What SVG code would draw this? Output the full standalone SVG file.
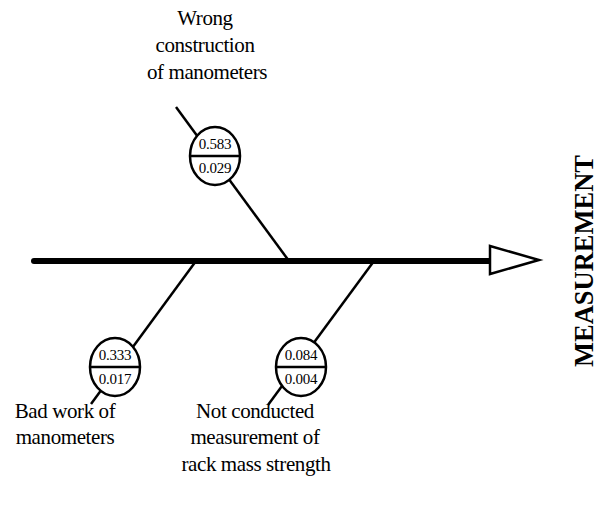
<svg xmlns="http://www.w3.org/2000/svg" width="604" height="509" viewBox="0 0 604 509">
<style>
.lbl{font-family:"Liberation Serif","Times New Roman",serif;font-size:21px;letter-spacing:-0.4px;fill:#000;text-anchor:middle}
.num{font-family:"Liberation Serif","Times New Roman",serif;font-size:15px;letter-spacing:-0.3px;fill:#000;text-anchor:middle}
.br{stroke:#000;stroke-width:2.5;fill:none}
.ell{stroke:#000;stroke-width:2.5;fill:#fff}
</style>
<rect width="604" height="509" fill="#fff"/>
<g id="connectors">
<line x1="34" y1="261" x2="490" y2="261" stroke="#000" stroke-width="6" stroke-linecap="round"/>
<polygon points="490,246 539,260 490,274" fill="#fff" stroke="#000" stroke-width="2.5"/>
<line class="br" x1="176" y1="107" x2="289" y2="261"/>
<line class="br" x1="196" y1="261" x2="91" y2="404"/>
<line class="br" x1="374" y1="261" x2="268" y2="405"/>
</g>
<g id="effect">
<text x="593" y="261" transform="rotate(-90 593 261)" font-family="Liberation Serif,Times New Roman,serif" font-size="26.5" font-weight="bold" text-anchor="middle">MEASUREMENT</text>
</g>
<g id="cause-wrong-construction">
<ellipse class="ell" cx="215" cy="156" rx="25" ry="29"/>
<line class="br" x1="190" y1="156" x2="240" y2="156"/>
<text class="num" x="215" y="149">0.583</text>
<text class="num" x="215" y="173">0.029</text>
<text class="lbl" x="205" y="25">Wrong</text>
<text class="lbl" x="205" y="52">construction</text>
<text class="lbl" x="207" y="79">of manometers</text>
</g>
<g id="cause-bad-work">
<ellipse class="ell" cx="115" cy="367" rx="25" ry="29"/>
<line class="br" x1="90" y1="367" x2="140" y2="367"/>
<text class="num" x="115" y="360">0.333</text>
<text class="num" x="115" y="384">0.017</text>
<text class="lbl" x="65" y="418">Bad work of</text>
<text class="lbl" x="65" y="444">manometers</text>
</g>
<g id="cause-not-conducted">
<ellipse class="ell" cx="301" cy="367" rx="25" ry="29"/>
<line class="br" x1="276" y1="367" x2="326" y2="367"/>
<text class="num" x="301" y="360">0.084</text>
<text class="num" x="301" y="384">0.004</text>
<text class="lbl" x="255" y="418">Not conducted</text>
<text class="lbl" x="255" y="444">measurement of</text>
<text class="lbl" x="256" y="471">rack mass strength</text>
</g>
</svg>
